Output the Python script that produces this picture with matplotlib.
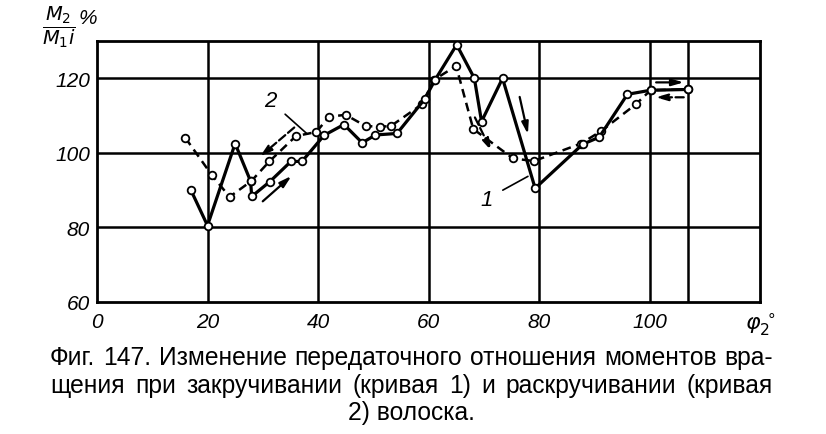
import matplotlib
matplotlib.use('Agg')
import matplotlib.pyplot as plt
from matplotlib import font_manager

# curve 1 - twisting (solid), curve 2 - untwisting (dashed)
phi_1 = [17, 20, 25, 27.8, 28, 31.3, 35.1, 37.1, 41.1, 44.7, 48, 50.4, 54.3,
         59.3, 61.2, 65.1, 68.3, 69.6, 73.4, 79.3, 87.9, 90.9, 96, 100.2, 107]
ratio_1 = [90, 80.5, 102.5, 92.4, 88.3, 92.3, 97.7, 97.7, 104.7, 107.6, 102.7, 104.8, 105.2,
           114.4, 119.6, 129, 120, 108.4, 120, 90.5, 102.3, 104.2, 115.7, 116.8, 117]

phi_2 = [16, 20.8, 24, 27.9, 31.2, 36, 39.7, 42, 45, 48.6, 51.3, 53.2, 58.8,
         61, 65, 68.1, 75.3, 79.1, 87.6, 91.2, 97.5, 100.2, 107]
ratio_2 = [104, 94, 88.2, 92.4, 97.7, 104.5, 105.6, 109.7, 110.2, 107.2, 107, 107.2, 113,
           119.6, 123.3, 106.4, 98.5, 97.8, 102.5, 105.8, 113, 116.8, 117]

x_ticks = [0, 20, 40, 60, 80, 100]
x_grid = [20, 40, 60, 80, 100, 107]
y_ticks = [60, 80, 100, 120]

# direction arrows: (start, end, dashed?)
arrows = [((30, 87), (35.2, 93.8), False),
          ((35.7, 106.8), (29.5, 99), True),
          ((76.5, 115), (78, 105), False),
          ((68.4, 109.5), (71.4, 100.5), True),
          ((101.2, 118.9), (106.2, 118.9), False),
          ((106.2, 114.9), (101.1, 114.9), True)]

caption = ['Фиг. 147. Изменение передаточного отношения моментов вра-',
           'щения при закручивании (кривая 1) и раскручивании (кривая',
           '2) волоска.']

installed = {f.name for f in font_manager.fontManager.ttflist}
narrow = 'Liberation Sans Narrow' if 'Liberation Sans Narrow' in installed else 'Liberation Sans'
fam = [narrow, 'DejaVu Sans']

W, H = 826, 435
fig = plt.figure(figsize=(W / 100, H / 100), dpi=100)
ax = fig.add_axes([97 / W, 1 - 303 / H, (760 - 97) / W, (303 - 42) / H])
ax.set_xlim(0, 120)
ax.set_ylim(60, 130)

for x in x_grid:
    ax.axvline(x, color='black', lw=1.8, zorder=1)
for y in y_ticks[1:]:
    ax.axhline(y, color='black', lw=1.8, zorder=1)
for s in ax.spines.values():
    s.set_linewidth(2.0)

ax.set_xticks(x_ticks)
ax.set_xticklabels([str(v) for v in x_ticks])
ax.set_yticks(y_ticks)
ax.set_yticklabels([str(v) for v in y_ticks])
ax.tick_params(length=0, labelsize=15)
ax.tick_params(axis='x', pad=7)
ax.tick_params(axis='y', pad=5)
for lab in ax.get_xticklabels() + ax.get_yticklabels():
    lab.set_fontstyle('italic')
    lab.set_family(fam)

ax.plot(phi_1, ratio_1, color='black', lw=2.3, marker='o', ms=5.5,
        mfc='white', mec='black', mew=1.3, zorder=4)
ax.plot(phi_2, ratio_2, color='black', lw=1.8, ls=(0, (3.5, 2.2)), marker='o', ms=5.5,
        mfc='white', mec='black', mew=1.3, zorder=3)

for (x0, y0), (x1, y1), dashed in arrows:
    ax.annotate('', xy=(x1, y1), xytext=(x0, y0),
                arrowprops=dict(arrowstyle='-|>,head_length=0.7,head_width=0.2',
                                color='black', lw=1.6, ls='--' if dashed else '-',
                                shrinkA=0, shrinkB=0), zorder=5)

ax.annotate('2', xy=(38.1, 105), xytext=(31.3, 114), fontsize=16, fontstyle='italic',
            family=fam, ha='center', va='center',
            arrowprops=dict(arrowstyle='-', color='black', lw=1.2, shrinkA=6, shrinkB=0))
ax.annotate('1', xy=(78, 93.7), xytext=(70.5, 87.6), fontsize=16, fontstyle='italic',
            family=fam, ha='center', va='center',
            arrowprops=dict(arrowstyle='-', color='black', lw=1.2, shrinkA=6, shrinkB=0))

ax.annotate(r'$\varphi_2^{\,\circ}$', xy=(120, 0), xycoords=('data', 'axes fraction'),
            xytext=(0, -6), textcoords='offset points', ha='center', va='top', fontsize=16)

fig.text(59 / W, 1 - 27 / H, r'$\dfrac{M_2}{M_1 i}$', ha='center', va='center', fontsize=14)
fig.text(88 / W, 1 - 19 / H, '%', ha='center', va='center', fontsize=15,
         fontstyle='italic', family=fam)

# caption, justified like in the book; size fitted to the first line
renderer = fig.canvas.get_renderer()
probe = fig.text(0, 0, caption[0], fontsize=14, family=fam)
fs = 14 * (773 - 50) / probe.get_window_extent(renderer).width
probe.remove()
for line, base, just in [(caption[0], 365, True), (caption[1], 393, True), (caption[2], 420, False)]:
    if not just:
        fig.text(411 / W, 1 - base / H, line, ha='center', va='baseline',
                 fontsize=fs, family=fam)
        continue
    words = line.split()
    texts = [fig.text(0, 1 - base / H, w, va='baseline', fontsize=fs, family=fam) for w in words]
    widths = [t.get_window_extent(renderer).width for t in texts]
    gap = (773 - 50 - sum(widths)) / (len(words) - 1)
    x = 50
    for t, w in zip(texts, widths):
        t.set_x(x / W)
        x += w + gap

fig.savefig('out.png', dpi=100, facecolor='white')
